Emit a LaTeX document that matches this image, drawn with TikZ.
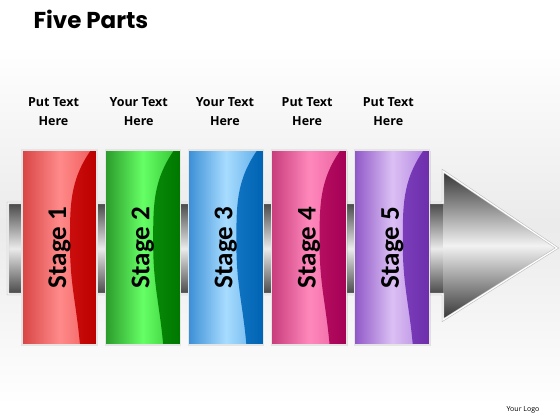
\documentclass[tikz,border=0pt]{standalone}
\usepackage{fontspec}
\setmainfont{Open Sans}
\newfontfamily\carlito{Carlito}
\newfontfamily\poppins{Poppins}
\usetikzlibrary{positioning, shadows}
\definecolor{redA}{HTML}{D84444}\definecolor{redB}{HTML}{FF8A8A}\definecolor{redC}{HTML}{F05858}
\definecolor{redD}{HTML}{E42424}\definecolor{redE}{HTML}{BC0000}
\definecolor{greenA}{HTML}{2A9A2A}\definecolor{greenB}{HTML}{66FF66}\definecolor{greenC}{HTML}{30C030}
\definecolor{greenD}{HTML}{14A814}\definecolor{greenE}{HTML}{007800}
\definecolor{blueA}{HTML}{3B8FD6}\definecolor{blueB}{HTML}{A8DCFF}\definecolor{blueC}{HTML}{5AAAE8}
\definecolor{blueD}{HTML}{3090DC}\definecolor{blueE}{HTML}{0064B4}
\definecolor{pinkA}{HTML}{C83C7C}\definecolor{pinkB}{HTML}{FF88BB}\definecolor{pinkC}{HTML}{E860A0}
\definecolor{pinkD}{HTML}{D42878}\definecolor{pinkE}{HTML}{A40054}
\definecolor{purpleA}{HTML}{9058C8}\definecolor{purpleB}{HTML}{DCC0F4}\definecolor{purpleC}{HTML}{B080E0}
\definecolor{purpleD}{HTML}{9058D0}\definecolor{purpleE}{HTML}{6E2EAC}
\tikzset{stagebox/.style={draw=black!10, line width=1.2pt, minimum width=75pt, minimum height=195pt, inner sep=0pt,
drop shadow={shadow xshift=1pt, shadow yshift=-1.2pt, opacity=0.2}}}
\tikzset{stagetext/.style={rotate=90, font=\carlito\bfseries\fontsize{27}{27}\selectfont}}
\tikzset{wave/.style 2 args={path picture={\shade[left color=#1, right color=#2]
([xshift=58pt]path picture bounding box.south west) to[out=95,in=-90]
([xshift=48pt, yshift=100pt]path picture bounding box.south west) to[out=90,in=-125]
([xshift=69pt]path picture bounding box.north west) -- (path picture bounding box.north east)
-- (path picture bounding box.south east) -- cycle;}}}
\tikzset{redbox/.style={left color=redA, right color=redC, middle color=redB, wave={redD}{redE}}}
\tikzset{greenbox/.style={left color=greenA, right color=greenC, middle color=greenB, wave={greenD}{greenE}}}
\tikzset{bluebox/.style={left color=blueA, right color=blueC, middle color=blueB, wave={blueD}{blueE}}}
\tikzset{pinkbox/.style={left color=pinkA, right color=pinkC, middle color=pinkB, wave={pinkD}{pinkE}}}
\tikzset{purplebox/.style={left color=purpleA, right color=purpleC, middle color=purpleB, wave={purpleD}{purpleE}}}
\tikzset{textlabel/.style={align=center, inner sep=0pt, font=\bfseries\fontsize{12.5}{19}\selectfont}}
\begin{document}
\begin{tikzpicture}[x=1pt, y=1pt, node distance=7pt]
\useasboundingbox (0,0) rectangle (560,420);
\fill[white] (0,0) rectangle (560,420);
\shade[top color=white, bottom color=white, middle color=black!8] (0,15) rectangle (560,375);

% arrow behind the stages
\shade[top color=black!72, bottom color=black!72, middle color=black!8] (8,126) rectangle (443,217);
\shade[top color=black!80, bottom color=black!80, middle color=black!5] (443,249) -- (557,172) -- (443,100) -- cycle;
\draw[black!25, line width=2.4pt, line join=miter] (8,126) -- (8,217) -- (443,217) -- (443,249) -- (557,172) -- (443,100) -- (443,126) -- cycle;
\draw[white, line width=1.2pt, line join=miter] (8,126) -- (8,217) -- (443,217) -- (443,249) -- (557,172) -- (443,100) -- (443,126) -- cycle;

\node[anchor=west, font=\poppins\bfseries\fontsize{23}{26}\selectfont] (title) at (30,401) {Five Parts};

\node[stagebox, redbox, label={[stagetext]center:Stage 1}] (stage1) at (59.5,172.5) {};
\node[right = of stage1, stagebox, greenbox, label={[stagetext]center:Stage 2}] (stage2) {};
\node[right = of stage2, stagebox, bluebox, label={[stagetext]center:Stage 3}] (stage3) {};
\node[right = of stage3, stagebox, pinkbox, label={[stagetext]center:Stage 4}] (stage4) {};
\node[right = of stage4, stagebox, purplebox, label={[stagetext]center:Stage 5}] (stage5) {};

\node[above = 24pt of stage1, xshift=-6pt, textlabel] (text1) {Put Text\\Here};
\node[above = 24pt of stage2, xshift=-4pt, textlabel] (text2) {Your Text\\Here};
\node[above = 24pt of stage3, xshift=-1pt, textlabel] (text3) {Your Text\\Here};
\node[above = 24pt of stage4, xshift=-2pt, textlabel] (text4) {Put Text\\Here};
\node[above = 24pt of stage5, xshift=-4pt, textlabel] (text5) {Put Text\\Here};

\node[font=\fontsize{7}{8}\selectfont] (logo) at (523,10) {Your Logo};
\end{tikzpicture}
\end{document}
